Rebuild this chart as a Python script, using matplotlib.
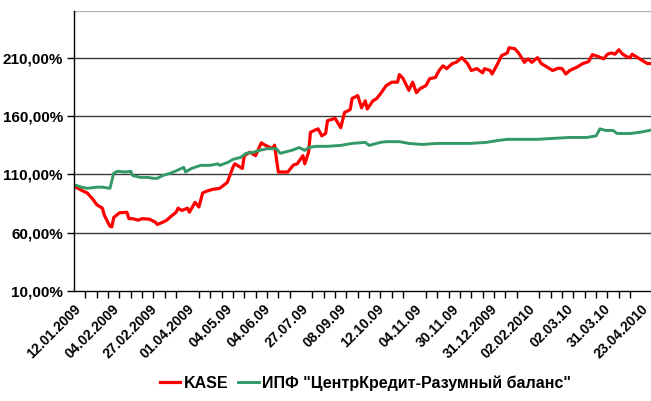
"""
KASE vs pension fund index chart.
"""

import matplotlib
matplotlib.use('Agg')
import matplotlib.pyplot as plt
import matplotlib.transforms as mtransforms
from matplotlib.ticker import MultipleLocator, FixedLocator, FuncFormatter

###

n_points = 306

date_labels = ['12.01.2009', '04.02.2009', '27.02.2009', '01.04.2009', '04.05.09',
               '04.06.09', '27.07.09', '08.09.09', '12.10.09', '04.11.09',
               '30.11.09', '31.12.2009', '02.02.2010', '02.03.10', '31.03.10',
               '23.04.2010']

kase_idx = [0, 1, 5, 7, 10, 12, 15, 16, 19, 20, 21, 24, 28, 29, 31, 34, 36, 40, 43,
            44, 47, 49, 52, 54, 55, 57, 60, 61, 64, 66, 68, 70, 73, 77, 81, 84, 85,
            89, 90, 93, 96, 99, 101, 105, 106, 108, 113, 116, 118, 121, 122, 124,
            125, 127, 129, 131, 133, 134, 138, 141, 143, 146, 147, 150, 152, 154,
            155, 158, 160, 162, 165, 168, 171, 172, 174, 177, 179, 181, 183, 186,
            188, 191, 193, 195, 197, 200, 202, 205, 208, 210, 213, 216, 217, 220,
            221, 224, 226, 229, 230, 233, 235, 237, 238, 240, 242, 245, 247, 251,
            253, 256, 258, 260, 262, 266, 269, 272, 274, 277, 280, 282, 284, 286,
            288, 290, 292, 294, 295, 298, 301, 303, 305]
kase_val = [100, 99, 95.5, 94, 88.6, 84, 81, 75, 65.5, 65, 73, 77, 77.5, 72, 72, 70.7,
            72, 71.5, 69, 67, 69, 70.7, 75, 77.5, 81, 79, 81, 77.5, 86, 82, 94, 95.5,
            97, 98, 103, 116, 119, 115, 126, 129, 126, 137, 135, 132, 135, 112, 112,
            118, 119, 126, 119, 129, 146, 147.6, 149, 143, 145, 156, 158, 150, 163,
            165.5, 175, 177.5, 167, 173, 166, 173, 175, 179, 186, 189, 189, 195.5,
            192, 182, 189, 180, 183.5, 186, 192, 193, 199, 203, 200.6, 205, 206, 210,
            205, 199, 200.6, 197, 200.6, 199, 196, 205, 211.7, 214, 218.5, 217.7, 214,
            209, 206, 209, 206, 210, 205, 201, 199, 201, 200.6, 196, 199, 202, 205,
            206.6, 212.6, 211, 209, 213, 214, 213, 216.8, 213, 211, 210, 213, 210,
            207, 205, 205]

fund_idx = [0, 1, 4, 7, 12, 15, 19, 21, 23, 27, 30, 31, 35, 39, 42, 44, 47, 51, 54,
            58, 59, 62, 67, 72, 76, 77, 81, 84, 88, 91, 95, 98, 102, 107, 109, 113,
            116, 119, 122, 124, 128, 134, 141, 147, 154, 156, 162, 165, 172, 177,
            184, 192, 200, 209, 218, 224, 229, 236, 245, 253, 262, 271, 276, 278,
            281, 285, 287, 294, 299, 304, 305]
fund_val = [101, 100.6, 99, 98, 99, 99, 98, 111, 112.6, 112, 112.6, 109, 107.4, 107.4,
            106.6, 106.6, 109, 111, 113, 116, 112, 115, 117.7, 117.7, 119, 117.7, 120,
            122.8, 124.5, 128, 129, 130.5, 132, 132, 128, 129.7, 131, 133, 130.5, 133,
            134, 134, 134.8, 136.5, 137.4, 134.8, 137.4, 138, 138, 136.5, 135.6, 136.5,
            136.5, 136.5, 137.4, 139, 140, 140, 140, 140.8, 141.6, 141.6, 143, 149,
            147.6, 147.6, 145, 145, 146, 147.6, 148]

###

plt.rcParams['font.family'] = ['Liberation Sans', 'DejaVu Sans']
plt.rcParams['font.weight'] = 'bold'

fig = plt.figure(figsize=(6.51, 4.01), dpi=100)
ax = fig.add_axes([74 / 651, 110 / 401, 577 / 651, 280 / 401])

ax.plot(kase_idx, kase_val, color='#ff0000', linewidth=2.3, label='KASE')
ax.plot(fund_idx, fund_val, color='#339966', linewidth=2.1,
        label='ИПФ "ЦентрКредит-Разумный баланс"')

ax.set_xlim(0, n_points - 1)
ax.set_ylim(10, 250)
ax.set_yticks([10, 60, 110, 160, 210])
ax.yaxis.set_major_formatter(FuncFormatter(lambda v, p: ('%.2f%%' % v).replace('.', ',')))
for y in [60, 110, 160, 210]:
    ax.axhline(y, color='#3a3a3a', linewidth=1.0, zorder=0)
ax.axhline(250, color='#b0b0b0', linewidth=1.0, zorder=0)

ax.xaxis.set_minor_locator(MultipleLocator(6))
ax.xaxis.set_major_locator(FixedLocator([20 * i for i in range(len(date_labels))]))
ax.set_xticklabels(date_labels, rotation=45, ha='right', va='top',
                   rotation_mode='anchor', fontsize=10, fontweight='bold')
shift = mtransforms.ScaledTranslation(-7 / 100, 0, fig.dpi_scale_trans)
for lab in ax.get_xticklabels():
    lab.set_transform(lab.get_transform() + shift)
ax.tick_params(axis='x', which='major', length=0, pad=8)
ax.tick_params(axis='x', which='minor', length=5, width=1, color='black')
ax.tick_params(axis='y', length=5, width=1, labelsize=11, pad=3)

for side in ['top', 'right']:
    ax.spines[side].set_visible(False)
for side in ['left', 'bottom']:
    ax.spines[side].set_linewidth(1.0)

fig.legend(loc='center', bbox_to_anchor=(0.561, 0.045), ncol=2, frameon=False,
           prop={'size': 11.5, 'weight': 'bold'}, handlelength=1.3, handletextpad=0.2,
           columnspacing=0.6)

plt.savefig('out.png', dpi=100)
